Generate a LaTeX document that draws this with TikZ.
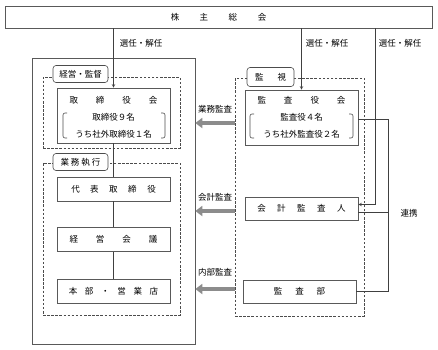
\documentclass[tikz,border=0pt]{standalone}
\usepackage{fontspec}
\setmainfont{Noto Sans CJK JP}
\usepackage{tikz}
\usetikzlibrary{arrows,arrows.meta,positioning,calc}

% characters set apart by a fixed gap (in pt)
\makeatletter
\newcommand{\spread}[2]{\def\spread@gap{}\@tfor\spread@c:=#2\do{\spread@gap\spread@c\def\spread@gap{\hspace{#1pt}}}}
\makeatother

\begin{document}
\begin{tikzpicture}[
      x=1pt, y=-1pt,
      font=\fontsize{8.5}{10}\selectfont,
      box/.style={rectangle, draw=black!65, line width=0.6pt, inner sep=0pt, align=center},
      dashbox/.style={rectangle, draw=black!70, line width=0.6pt, dash pattern=on 2.5pt off 1.6pt, inner sep=0pt},
      tag/.style={rectangle, draw=black!70, line width=0.6pt, rounded corners=3pt, fill=white,
                  minimum height=17pt, inner sep=1pt},
      members/.style={align=center, font=\fontsize{8.5}{17}\selectfont, inner sep=0pt},
      bracket/.style={draw=black!70, line width=0.6pt, rounded corners=2pt},
      arrow/.style={->, >=stealth, line width=0.6pt, draw=black!75},
      link/.style={line width=0.6pt, draw=black!75},
      grayarrow/.style={-{Triangle[width=10pt,length=7pt]}, line width=4.5pt, draw=black!45},
    ]
    \useasboundingbox (0,0) rectangle (438,349);

    \node[box, minimum width=427pt, minimum height=22pt] (soukai) at (218.5,17) {\spread{20.5}{株主総会}};

    % left: company side
    \node[box, minimum width=163pt, minimum height=286pt] (kaisha) at (113.5,201) {};
    \node[dashbox, minimum width=137pt, minimum height=71pt] (kantoku) at (111.5,112.5) {};
    \node[dashbox, minimum width=137pt, minimum height=152pt] (gyomu) at (111.5,239) {};
    \node[tag, minimum width=55pt] (kantokutag) at (80.5,74) {経営・監督};
    \node[tag, minimum width=55pt] (gyomutag) at (80.5,162) {\spread{2}{業務執行}};

    \node[box, minimum width=113pt, minimum height=55pt] (torishimari) at (113.5,115.5) {};
    \node[inner sep=0pt] (torititle) at (113.5,100) {\spread{18}{取締役会}};
    \node[members] (torimember) at (113.5,126) {取締役９名\\うち社外取締役１名};
    \draw[bracket] (67,113) -- (63,113) -- (63,138) -- (67,138);
    \draw[bracket] (161,113) -- (165,113) -- (165,138) -- (161,138);

    \node[box, minimum width=113pt, minimum height=24pt] (daihyo) at (113.5,189)   {\spread{10.5}{代表取締役}};
    \node[box, minimum width=113pt, minimum height=24pt] (keiei)  at (113.5,239.5) {\spread{18}{経営会議}};
    \node[box, minimum width=113pt, minimum height=24pt] (honbu)  at (113.5,291.5) {\spread{7.7}{本部・営業店}};

    % right: audit side
    \node[dashbox, minimum width=129pt, minimum height=238pt] (kanshi) at (299.5,197) {};
    \node[tag, minimum width=47pt, minimum height=19pt] (kanshitag) at (270.5,77) {\spread{14}{監視}};

    \node[box, minimum width=113pt, minimum height=55pt] (kansayaku) at (301.5,117.5) {};
    \node[inner sep=0pt] (kansatitle) at (301.5,100) {\spread{18}{監査役会}};
    \node[members] (kansamember) at (301.5,126) {監査役４名\\うち社外監査役２名};
    \draw[bracket] (254,114) -- (250,114) -- (250,138) -- (254,138);
    \draw[bracket] (349,114) -- (353,114) -- (353,138) -- (349,138);

    \node[box, minimum width=113pt, minimum height=23pt] (kaikei)  at (301.5,208.5) {\spread{11.5}{会計監査人}};
    \node[box, minimum width=113pt, minimum height=23pt] (kansabu) at (299.5,291.5) {\spread{13}{監査部}};

    % appointment / dismissal
    \coordinate (sennin) at (375,0);
    \draw[arrow] (soukai.south -| torishimari.north) -- (torishimari.north);
    \draw[arrow] (soukai.south -| kansayaku.north) -- (kansayaku.north);
    \draw[arrow] (sennin |- soukai.south) |- ($(kaikei.east)+(0,-4)$);
    \node (sen1) at (141,43) {選任・解任};
    \node (sen2) at (327,43) {選任・解任};
    \node (sen3) at (400,43) {選任・解任};

    % chain of execution
    \draw[link] (torishimari) -- (daihyo);
    \draw[link] (daihyo) -- (keiei);
    \draw[link] (keiei) -- (honbu);

    % cooperation
    \coordinate (renkei) at (388,0);
    \coordinate (kaikeiR) at ($(kaikei.east)+(0,3.5)$);
    \draw[link] ($(kansayaku.east)+(0,2)$) -| (renkei |- kansabu.east) -- (kansabu.east);
    \draw[link] (kaikeiR) -- (renkei |- kaikeiR);
    \node (renkeilabel) at (409,213) {連携};

    % audits
    \draw[grayarrow] ($(kanshi.west |- kansayaku.west)+(0,5.5)$) -- ($(kaisha.east |- kansayaku.west)+(0,5.5)$);
    \draw[grayarrow] ($(kanshi.west |- kaikei.west)+(0,2.5)$) -- ($(kaisha.east |- kaikei.west)+(0,2.5)$);
    \draw[grayarrow] ($(kanshi.west |- kansabu.west)+(0,-2.5)$) -- ($(kaisha.east |- kansabu.west)+(0,-2.5)$);
    \node (gyomukansa) at (215,109) {業務監査};
    \node (kaikeikansa) at (215,197) {会計監査};
    \node (naibukansa) at (215,272) {内部監査};
  \end{tikzpicture}
\end{document}
